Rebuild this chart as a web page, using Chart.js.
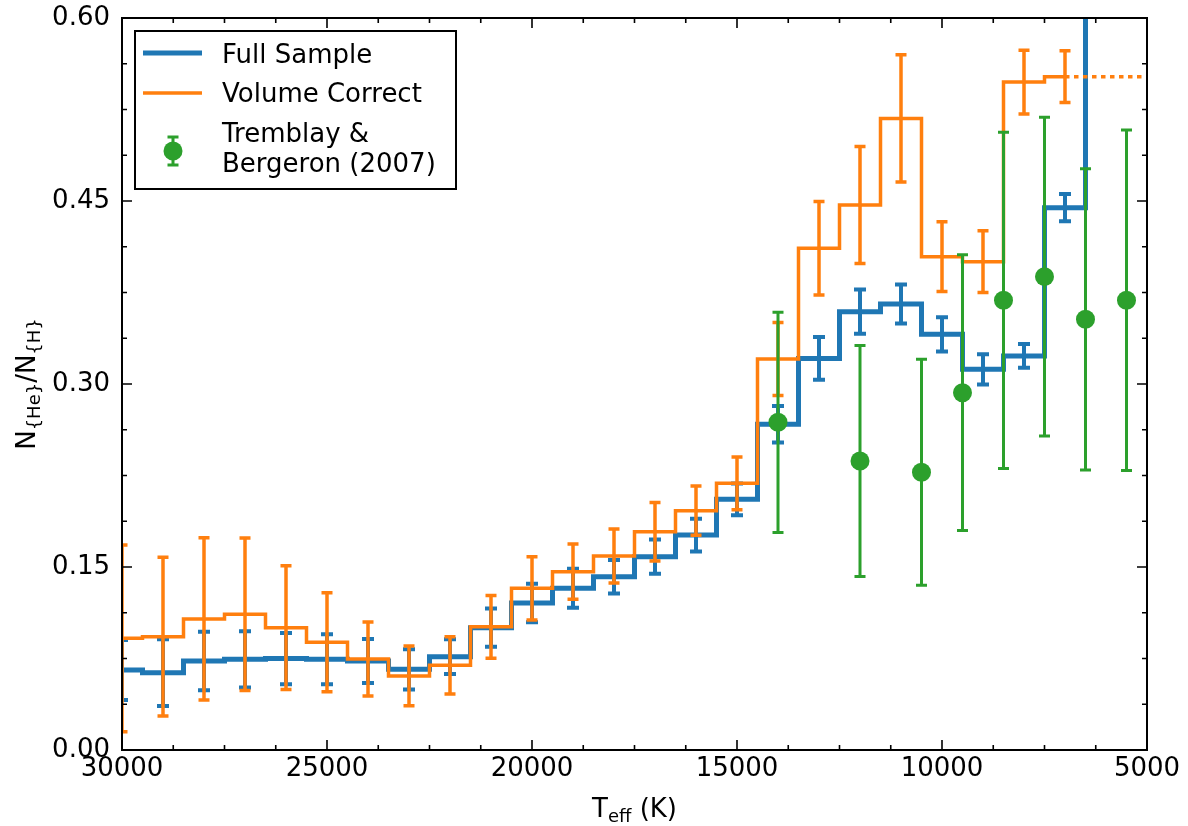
<!DOCTYPE html>
<html>
<head>
<meta charset="utf-8">
<title>He/H ratio vs Teff</title>
<script src="https://cdn.jsdelivr.net/npm/chart.js@4.4.0/dist/chart.umd.min.js"></script>
<style>
    html, body { margin: 0; padding: 0; background: #ffffff; }
    canvas { display: block; }
</style>
</head>
<body>
<canvas id="heRatioChart" width="1188" height="826"></canvas>
<script>
// Bin centres (K) for the two histograms
const binTemps = [30000, 29000, 28000, 27000, 26000, 25000, 24000, 23000, 22000, 21000, 20000, 19000, 18000,
    17000, 16000, 15000, 14000, 13000, 12000, 11000, 10000, 9000, 8000, 7000, 6000];

// Full sample
const fullValues = [0.0656, 0.0634, 0.0730, 0.0743, 0.0749, 0.0743, 0.0730, 0.0661, 0.0765, 0.1003, 0.1205, 0.1325, 0.1420,
    0.1585, 0.1762, 0.2055, 0.2670, 0.3210, 0.3593, 0.3656, 0.3407, 0.3120, 0.3230, 0.4445, 0.7000];
const fullErrors = [0.0246, 0.0273, 0.0240, 0.0230, 0.0210, 0.0205, 0.0180, 0.0165, 0.0143, 0.0157, 0.0157, 0.0160, 0.0137,
    0.0140, 0.0134, 0.0130, 0.0150, 0.0175, 0.0182, 0.0160, 0.0141, 0.0124, 0.0097, 0.0112, 0];

// Volume corrected (ends at 7000 K)
const volumeValues = [0.0915, 0.0929, 0.1074, 0.1112, 0.1003, 0.0883, 0.0746, 0.0607, 0.0694, 0.1010, 0.1325, 0.1462, 0.1590,
    0.1789, 0.1962, 0.2186, 0.3205, 0.4112, 0.4467, 0.5177, 0.4044, 0.4003, 0.5475, 0.5519];
const volumeErrors = [0.0766, 0.0650, 0.0665, 0.0625, 0.0507, 0.0406, 0.0303, 0.0245, 0.0235, 0.0257, 0.0259, 0.0226, 0.0222,
    0.0240, 0.0202, 0.0216, 0.0300, 0.0383, 0.0480, 0.0522, 0.0286, 0.0253, 0.0261, 0.0212];
const volumeExtTemps = [7000, 5000];

// Tremblay & Bergeron (2007)
const tbTemps = [14000, 12000, 10500, 9500, 8500, 7500, 6500, 5500];
const tbValues = [0.2686, 0.2369, 0.2276, 0.2929, 0.3686, 0.3880, 0.3530, 0.3686];
const tbErrors = [0.0903, 0.0946, 0.0926, 0.1130, 0.1378, 0.1306, 0.1234, 0.1395];

// Tick labels
const xTickValues = [30000, 25000, 20000, 15000, 10000, 5000];
const yTickValues = [0, 0.15, 0.30, 0.45, 0.60];

const BLUE = '#1f77b4';
const ORANGE = '#ff7f0e';
const GREEN = '#2ca02c';
const FONT = '"DejaVu Sans", "Liberation Sans", sans-serif';

function toPoints(xs, ys) {
    return ys.map((y, i) => ({ x: xs[i], y: y }));
}

function drawErrorBars(chart, xs, ys, errs, color, lineWidth, capHalf) {
    const ctx = chart.ctx;
    const xScale = chart.scales.x;
    const yScale = chart.scales.y;
    const area = chart.chartArea;
    ctx.save();
    ctx.beginPath();
    ctx.rect(area.left, area.top, area.right - area.left, area.bottom - area.top);
    ctx.clip();
    ctx.strokeStyle = color;
    ctx.lineWidth = lineWidth;
    ctx.lineCap = 'butt';
    ys.forEach((y, i) => {
        if (!errs[i]) return;
        const px = xScale.getPixelForValue(xs[i]);
        const top = yScale.getPixelForValue(y + errs[i]);
        const bottom = yScale.getPixelForValue(y - errs[i]);
        ctx.beginPath();
        ctx.moveTo(px, top);
        ctx.lineTo(px, bottom);
        ctx.moveTo(px - capHalf, top);
        ctx.lineTo(px + capHalf, top);
        ctx.moveTo(px - capHalf, bottom);
        ctx.lineTo(px + capHalf, bottom);
        ctx.stroke();
    });
    ctx.restore();
}

// Draws text parts, some as subscripts, centred on cx
function drawMathLabel(ctx, parts, cx, baseline, size) {
    const subSize = Math.round(size * 0.7);
    let total = 0;
    parts.forEach((p) => {
        ctx.font = (p.sub ? subSize : size) + 'px ' + FONT;
        p.w = ctx.measureText(p.text).width;
        total += p.w;
    });
    let x = cx - total / 2;
    ctx.textAlign = 'left';
    ctx.textBaseline = 'alphabetic';
    parts.forEach((p) => {
        ctx.font = (p.sub ? subSize : size) + 'px ' + FONT;
        ctx.fillText(p.text, x, baseline + (p.sub ? 5 : 0));
        x += p.w;
    });
}

const errorBarPlugin = {
    id: 'errorBars',
    beforeDatasetDraw(chart, args) {
        if (args.index === 3) {
            drawErrorBars(chart, tbTemps, tbValues, tbErrors, GREEN, 3, 5.5);
        }
    },
    afterDatasetDraw(chart, args) {
        if (args.index === 0) {
            drawErrorBars(chart, binTemps, fullValues, fullErrors, BLUE, 4, 6);
        }
        if (args.index === 1) {
            drawErrorBars(chart, binTemps, volumeValues, volumeErrors, ORANGE, 3.5, 5.5);
        }
    }
};

const framePlugin = {
    id: 'frame',
    afterDraw(chart) {
        const ctx = chart.ctx;
        const area = chart.chartArea;
        const xScale = chart.scales.x;
        const yScale = chart.scales.y;

        ctx.save();
        ctx.strokeStyle = '#000';

        // ticks, pointing inwards on all four sides
        ctx.lineWidth = 1.6;
        ctx.beginPath();
        for (let t = 5000; t <= 30000; t += 1250) {
            const px = xScale.getPixelForValue(t);
            const len = t % 5000 === 0 ? 10 : 5;
            ctx.moveTo(px, area.bottom);
            ctx.lineTo(px, area.bottom - len);
            ctx.moveTo(px, area.top);
            ctx.lineTo(px, area.top + len);
        }
        for (let i = 0; i <= 16; i++) {
            const py = yScale.getPixelForValue(i * 0.0375);
            const len = i % 4 === 0 ? 10 : 5;
            ctx.moveTo(area.left, py);
            ctx.lineTo(area.left + len, py);
            ctx.moveTo(area.right, py);
            ctx.lineTo(area.right - len, py);
        }
        ctx.stroke();

        ctx.lineWidth = 2;
        ctx.strokeRect(area.left, area.top, area.right - area.left, area.bottom - area.top);

        // axis labels
        ctx.fillStyle = '#000';
        drawMathLabel(ctx, [{ text: 'T' }, { text: 'eff', sub: true }, { text: ' (K)' }],
            (area.left + area.right) / 2, 817, 26);

        ctx.save();
        ctx.translate(35, (area.top + area.bottom) / 2);
        ctx.rotate(-Math.PI / 2);
        drawMathLabel(ctx, [{ text: 'N' }, { text: '{He}', sub: true }, { text: '/N' }, { text: '{H}', sub: true }],
            0, 0, 26);
        ctx.restore();

        // legend
        ctx.fillStyle = '#fff';
        ctx.fillRect(135, 31, 321, 158);
        ctx.lineWidth = 2;
        ctx.strokeRect(135, 31, 321, 158);

        ctx.lineCap = 'butt';
        ctx.strokeStyle = BLUE;
        ctx.lineWidth = 5;
        ctx.beginPath();
        ctx.moveTo(143, 53);
        ctx.lineTo(202, 53);
        ctx.stroke();

        ctx.strokeStyle = ORANGE;
        ctx.lineWidth = 3.5;
        ctx.beginPath();
        ctx.moveTo(143, 93);
        ctx.lineTo(202, 93);
        ctx.stroke();

        ctx.strokeStyle = GREEN;
        ctx.lineWidth = 3;
        ctx.beginPath();
        ctx.moveTo(173, 137);
        ctx.lineTo(173, 165);
        ctx.moveTo(167.5, 137);
        ctx.lineTo(178.5, 137);
        ctx.moveTo(167.5, 165);
        ctx.lineTo(178.5, 165);
        ctx.stroke();
        ctx.fillStyle = GREEN;
        ctx.beginPath();
        ctx.arc(173, 151, 9.5, 0, Math.PI * 2);
        ctx.fill();

        ctx.fillStyle = '#000';
        ctx.font = '26px ' + FONT;
        ctx.textAlign = 'left';
        ctx.textBaseline = 'alphabetic';
        ctx.fillText('Full Sample', 222, 62.5);
        ctx.fillText('Volume Correct', 222, 102);
        ctx.fillText('Tremblay &', 222, 142);
        ctx.fillText('Bergeron (2007)', 222, 172);

        ctx.restore();
    }
};

const chartCtx = document.getElementById('heRatioChart').getContext('2d');

new Chart(chartCtx, {
    type: 'line',
    data: {
        datasets: [{
            label: 'Full Sample',
            data: toPoints(binTemps, fullValues),
            borderColor: BLUE,
            borderWidth: 5,
            stepped: 'middle',
            pointRadius: 0,
            fill: false,
            clip: 0,
            order: 4
        }, {
            label: 'Volume Correct',
            data: toPoints(binTemps, volumeValues),
            borderColor: ORANGE,
            borderWidth: 3.5,
            stepped: 'middle',
            pointRadius: 0,
            fill: false,
            clip: 0,
            order: 3
        }, {
            label: 'Volume Correct (extension)',
            data: toPoints(volumeExtTemps, [volumeValues[volumeValues.length - 1], volumeValues[volumeValues.length - 1]]),
            borderColor: ORANGE,
            borderWidth: 3.5,
            borderDash: [4.5, 4.5],
            pointRadius: 0,
            fill: false,
            clip: 0,
            order: 2
        }, {
            type: 'scatter',
            label: 'Tremblay & Bergeron (2007)',
            data: toPoints(tbTemps, tbValues),
            showLine: false,
            pointRadius: 9.5,
            pointBackgroundColor: GREEN,
            pointBorderWidth: 0,
            borderColor: GREEN,
            clip: 0,
            order: 1
        }]
    },
    options: {
        responsive: false,
        animation: false,
        devicePixelRatio: 1,
        layout: {
            padding: { top: 18, right: 41, left: 0, bottom: 0 }
        },
        plugins: {
            legend: { display: false },
            tooltip: { enabled: false }
        },
        scales: {
            x: {
                type: 'linear',
                reverse: true,
                min: 5000,
                max: 30000,
                afterBuildTicks: (scale) => { scale.ticks = xTickValues.map((v) => ({ value: v })); },
                afterFit: (scale) => { scale.height = 76; },
                grid: { display: false, drawTicks: false },
                border: { display: false },
                ticks: {
                    color: '#000',
                    font: { family: FONT, size: 26 },
                    padding: 4,
                    maxRotation: 0,
                    autoSkip: false,
                    callback: (v) => String(v)
                }
            },
            y: {
                type: 'linear',
                min: 0,
                max: 0.6,
                afterBuildTicks: (scale) => { scale.ticks = yTickValues.map((v) => ({ value: v })); },
                afterFit: (scale) => {
                    scale.width = 122;
                    scale.paddingTop = 0;
                    scale.paddingBottom = 0;
                },
                grid: { display: false, drawTicks: false },
                border: { display: false },
                ticks: {
                    color: '#000',
                    font: { family: FONT, size: 26 },
                    padding: 12,
                    autoSkip: false,
                    callback: (v) => v.toFixed(2)
                }
            }
        }
    },
    plugins: [errorBarPlugin, framePlugin]
});
</script>
</body>
</html>
